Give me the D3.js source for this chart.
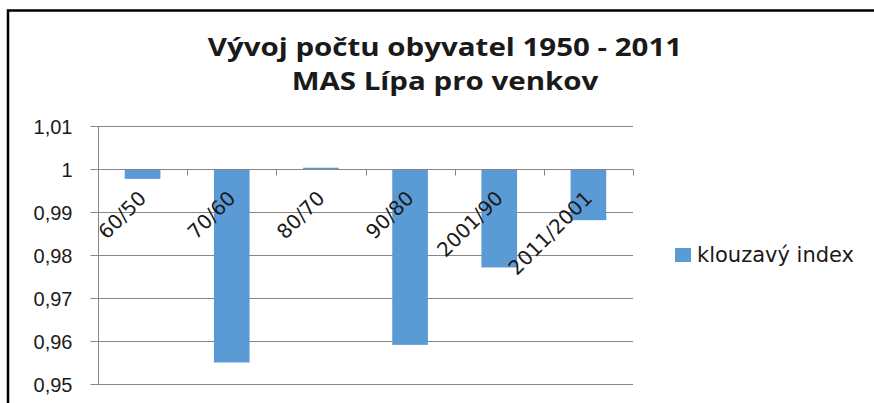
<!DOCTYPE html>
<html>
<head>
<meta charset="utf-8">
<script src="https://cdn.jsdelivr.net/npm/d3@7"></script>
<style>
  body { margin: 0; background: #fff; }
  svg { display: block; }
</style>
</head>
<body>
<div id="chart"></div>
<script>
const categories = ["60/50", "70/60", "80/70", "90/80", "2001/90", "2011/2001"];
const values = [0.9977, 0.9550, 1.0003, 0.9591, 0.9771, 0.9881];
const yTicks = [0.95, 0.96, 0.97, 0.98, 0.99, 1, 1.01];
const seriesName = "klouzavý index";
const titleLines = ["Vývoj počtu obyvatel 1950 - 2011", "MAS Lípa pro venkov"];

const W = 874, H = 403;
const plot = {left: 98, right: 633, top: 126, bottom: 384};
const barColor = "#5b9bd5";
const gridColor = "#868686";

const cz = d3.formatLocale({decimal: ",", thousands: " ", grouping: [3], currency: ["", " Kč"]});
const fmt = cz.format(".2~f");

const svg = d3.select("#chart").append("svg")
    .attr("width", W)
    .attr("height", H)
    .style("font-family", "'DejaVu Sans', sans-serif");

svg.append("rect").attr("width", W).attr("height", H).attr("fill", "#fff");

// chart frame (runs off the right and bottom of the picture)
svg.append("rect")
    .attr("x", 8).attr("y", 10.5)
    .attr("width", W + 20).attr("height", H + 20)
    .attr("fill", "none")
    .attr("stroke", "#000")
    .attr("stroke-width", 2.5);

const x = d3.scaleBand()
    .domain(categories)
    .range([plot.left, plot.right])
    .paddingInner(0)
    .paddingOuter(0);

const y = d3.scaleLinear()
    .domain([0.95, 1.01])
    .range([plot.bottom, plot.top]);

// horizontal gridlines
svg.append("g").attr("class", "grid")
    .selectAll("line")
    .data(yTicks)
    .enter().append("line")
    .attr("x1", plot.left)
    .attr("x2", plot.right)
    .attr("y1", d => Math.round(y(d)) + 0.5)
    .attr("y2", d => Math.round(y(d)) + 0.5)
    .attr("stroke", gridColor)
    .attr("stroke-width", 1);

// y axis
const yAxis = svg.append("g")
    .attr("transform", `translate(${plot.left + 0.5},0)`)
    .call(d3.axisLeft(y).tickValues(yTicks).tickFormat(fmt).tickSize(8).tickPadding(18));
yAxis.select(".domain").attr("stroke", gridColor).attr("d", `M0,${plot.top}V${plot.bottom}`);
yAxis.selectAll(".tick line").attr("stroke", gridColor);
yAxis.selectAll(".tick text")
    .attr("fill", "#1a1a1a")
    .style("font-size", "20px")
    .attr("dy", "0.36em");

// bars from the 1.0 crossing
const base = y(1);
const barW = x.bandwidth() * 0.4;
svg.append("g").attr("class", "bars")
    .selectAll("rect")
    .data(values)
    .enter().append("rect")
    .attr("x", (d, i) => x(categories[i]) + (x.bandwidth() - barW) / 2)
    .attr("y", d => Math.min(y(d), base))
    .attr("width", barW)
    .attr("height", d => Math.max(1, Math.abs(y(d) - base)))
    .attr("fill", barColor);

// category axis crossing at 1
const xAxis = svg.append("g")
    .attr("transform", `translate(0,${Math.round(base) + 0.5})`);
xAxis.append("line")
    .attr("x1", plot.left).attr("x2", plot.right)
    .attr("stroke", gridColor);
xAxis.selectAll(".xtick")
    .data(categories.concat(["end"]))
    .enter().append("line")
    .attr("class", "xtick")
    .attr("x1", (d, i) => Math.round(plot.left + i * x.step()) + 0.5)
    .attr("x2", (d, i) => Math.round(plot.left + i * x.step()) + 0.5)
    .attr("y1", 0).attr("y2", 6)
    .attr("stroke", gridColor);
xAxis.selectAll(".xlabel")
    .data(categories)
    .enter().append("text")
    .attr("class", "xlabel")
    .attr("transform", d => `translate(${x(d) + x.bandwidth() / 2 + 5},30) rotate(-45)`)
    .attr("text-anchor", "end")
    .attr("fill", "#1a1a1a")
    .style("font-size", "20px")
    .text(d => d);

// title (the original is stretched sideways)
svg.append("g")
    .attr("transform", "translate(445,0) scale(1.18,1)")
    .style("font-family", "'Open Sans', sans-serif")
    .style("font-weight", 700)
    .style("font-size", "25px")
    .attr("fill", "#1a1a1a")
    .selectAll("text")
    .data(titleLines)
    .enter().append("text")
    .attr("x", 0)
    .attr("y", (d, i) => 56 + i * 34)
    .attr("text-anchor", "middle")
    .text(d => d);

// legend
const legend = svg.append("g").attr("transform", "translate(675,248)");
legend.append("rect")
    .attr("width", 16).attr("height", 14)
    .attr("fill", barColor);
legend.append("text")
    .attr("x", 22).attr("y", 14)
    .attr("fill", "#1a1a1a")
    .style("font-size", "21px")
    .text(seriesName);
</script>
</body>
</html>
